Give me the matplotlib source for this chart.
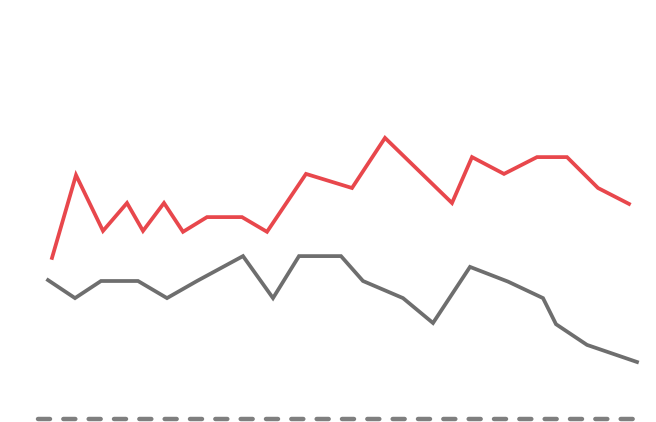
import matplotlib.pyplot as plt

# positions along the horizontal axis (irregular spacing)
x_red = [52, 76, 103, 127, 143, 164, 183, 207, 242, 267, 306, 352, 385, 452, 472, 504, 537, 567, 598, 629]
y_red = [53.7, 81.3, 62.7, 72.0, 62.7, 72.0, 62.4, 67.3, 67.3, 62.4, 81.7, 77.0, 93.7, 72.0, 87.3, 81.7, 87.3, 87.3, 77.0, 71.7]

x_gray = [48, 75, 101, 138, 167, 197, 243, 273, 299, 341, 363, 403, 433, 470, 508, 543, 556, 587, 637]
y_gray = [46.3, 40.3, 46.0, 46.0, 40.3, 46.0, 54.3, 40.3, 54.3, 54.3, 46.0, 40.3, 32.0, 50.7, 45.8, 40.3, 31.6, 24.7, 19.0]

base_x = [38, 636]
base_y = [0, 0]

fig = plt.figure(figsize=(6.56, 4.22), dpi=100)
ax = fig.add_axes([0, 0, 1, 1])

ax.plot(base_x, base_y, color='#7f7f7f', linewidth=3.2, linestyle=(0, (2.7, 3.0)),
        dash_capstyle='round')
ax.plot(x_gray, y_gray, color='#6e6e6e', linewidth=2.7, solid_joinstyle='miter')
ax.plot(x_red, y_red, color='#e8474c', linewidth=2.7, solid_joinstyle='miter')

ax.set_xlim(0, 656)
ax.set_ylim(-1, 419 / 3)
ax.axis('off')

fig.savefig('out.png', dpi=100)
